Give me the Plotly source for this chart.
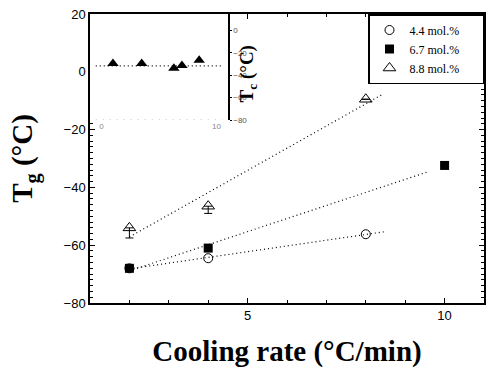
import numpy as np
import plotly.graph_objects as go

# ---- data ----
rate = [2, 4, 8]
tg_44 = [-68, -64.5, -56.2]
rate_67 = [2, 4, 10]
tg_67 = [-68, -61, -32.4]
rate_88 = [2, 4, 8]
tg_88 = [-54, -46.5, -9.5]
err_88_minus = [3.5, 2.5, 0]
fit_end = {"4.4": 8.5, "6.7": 9.6, "8.8": 8.4}

inset_rate = [1, 3.5, 6.3, 7, 8.5]
inset_tc = [-29.5, -29.5, -33.9, -31.3, -26.8]
tc_mean = -31.7

labels = ["4.4 mol.%", "6.7 mol.%", "8.8 mol.%"]

serif = "Liberation Serif"
sans = "Liberation Sans"
DOT = "1px,3px"
PAD = "\u00a0" * 6

fig = go.Figure()

def fit_line(x, y, x0, x1):
    k, b = np.polyfit(x, y, 1)
    xs = [x0, x1]
    return xs, [k * v + b for v in xs]

for xs_, ys_, key in [(rate, tg_44, "4.4"), (rate_67, tg_67, "6.7"), (rate_88, tg_88, "8.8")]:
    fx, fy = fit_line(xs_, ys_, xs_[0], fit_end[key])
    fig.add_trace(go.Scatter(x=fx, y=fy, mode="lines", showlegend=False,
                             line=dict(color="black", width=1.2, dash=DOT), hoverinfo="skip"))

fig.add_trace(go.Scatter(x=rate, y=tg_44, mode="markers", name=labels[0] + PAD,
                         marker=dict(symbol="circle-open", size=9, color="black",
                                     line=dict(width=1, color="black"))))
fig.add_trace(go.Scatter(x=rate_67, y=tg_67, mode="markers", name=labels[1] + PAD,
                         marker=dict(symbol="square", size=9, color="black")))
fig.add_trace(go.Scatter(x=rate_88, y=tg_88, mode="markers", name=labels[2] + PAD,
                         marker=dict(symbol="triangle-up-open", size=11, color="black",
                                     line=dict(width=1, color="black")),
                         error_y=dict(type="data", symmetric=False, array=[0, 0, 0],
                                      arrayminus=err_88_minus, color="black",
                                      thickness=1, width=4)))

# inset
fig.add_trace(go.Scatter(x=inset_rate, y=inset_tc, mode="markers", showlegend=False,
                         xaxis="x2", yaxis="y2",
                         marker=dict(symbol="triangle-up", size=10, color="black")))
fig.add_shape(type="line", xref="x2", yref="y2", x0=-0.5, x1=10.4, y0=tc_mean, y1=tc_mean,
              line=dict(color="black", width=1.2, dash=DOT))
fig.add_shape(type="line", xref="x2", yref="y2", x0=-0.5, x1=10.5, y0=-80, y1=-80,
              line=dict(color="#999999", width=1.2, dash="1px,6px"))
fig.add_annotation(text="<b>T<sub>c</sub> (°C)</b>", xref="paper", yref="paper",
                   x=0.401, y=0.9, textangle=-90, showarrow=False,
                   font=dict(family=serif, size=19, color="black"))

axis_common = dict(showline=True, linecolor="black", linewidth=1.5, mirror="allticks",
                   ticks="inside", ticklen=5, tickcolor="black", showgrid=False,
                   zeroline=False, automargin=False,
                   tickfont=dict(family=sans, size=13, color="black"))

fig.update_layout(
    width=500, height=375,
    margin=dict(l=90, r=16, t=14, b=72, autoexpand=False),
    paper_bgcolor="white", plot_bgcolor="white",
    xaxis=dict(range=[1, 11], tickvals=[5, 10],
               minor=dict(dtick=1, tick0=0, ticks="inside", ticklen=3, tickcolor="black"),
               title=dict(text="Cooling rate (°C/min)",
                          font=dict(family=serif, size=29, color="black", weight="bold"),
                          standoff=18),
               **axis_common),
    yaxis=dict(range=[-80, 20], tickvals=[-80, -60, -40, -20, 0, 20],
               minor=dict(dtick=2, tick0=0, ticks="inside", ticklen=3, tickcolor="black"),
               title=dict(text="T<sub>g</sub> (°C)",
                          font=dict(family=serif, size=29, color="black", weight="bold"),
                          standoff=22),
               **axis_common),
    xaxis2=dict(domain=[0, 0.35], range=[-1, 11], anchor="y2", showline=False,
                showgrid=False, zeroline=False, ticks="", tickvals=[0, 10], automargin=False,
                tickfont=dict(family=sans, size=8, color="#888888"), ticklabelstandoff=0),
    yaxis2=dict(domain=[0.633, 1], range=[-80, 14.5], anchor="x2", side="right",
                showline=True, linecolor="black", linewidth=1.5, showgrid=False,
                zeroline=False, ticks="outside", ticklen=2, tickcolor="black",
                tickvals=[0, -20, -40, -60, -80], automargin=False,
                tickfont=dict(family=sans, size=8, color="#555555")),
    legend=dict(x=1, y=1, xanchor="right", yanchor="top", bgcolor="white",
                bordercolor="black", borderwidth=1.5,
                font=dict(family=serif, size=12, color="black"),
                tracegroupgap=0),
    showlegend=True,
)

fig.write_html("out.html", config={"displayModeBar": False},
               post_script="document.body.style.margin='0';")
